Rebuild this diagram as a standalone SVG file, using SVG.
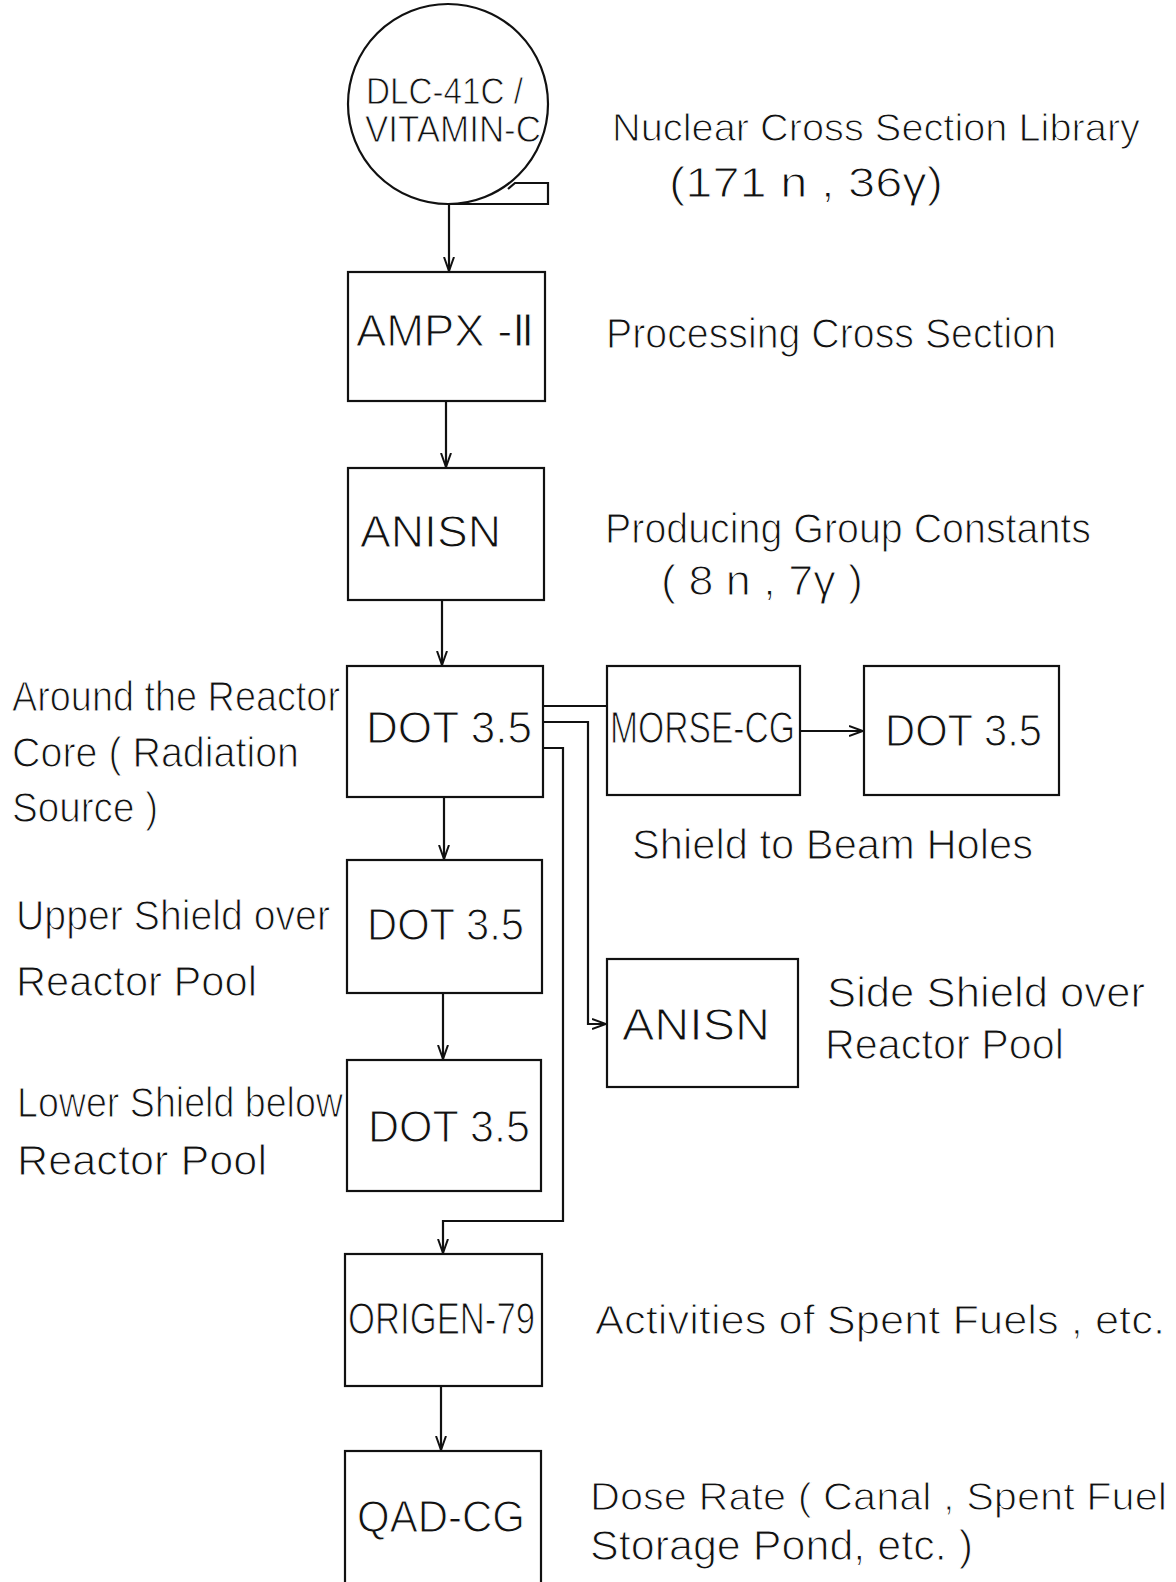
<svg xmlns="http://www.w3.org/2000/svg" width="1176" height="1582" viewBox="0 0 1176 1582">
<style>
  .box { fill: #fff; stroke: #111; stroke-width: 2.2; }
  .conn { fill: none; stroke: #111; stroke-width: 2.2; }
  .t { font-family: "Liberation Sans", Arial, sans-serif; font-size: 42px; fill: #111; stroke: #fff; stroke-width: 1.1px; }
  .n { font-family: "Liberation Sans", Arial, sans-serif; font-size: 44px; fill: #111; stroke: #fff; stroke-width: 1.1px; }
  .c { font-family: "Liberation Sans", Arial, sans-serif; font-size: 37px; fill: #111; stroke: #fff; stroke-width: 0.9px; }
</style>
<defs>
  <marker id="arr" markerUnits="userSpaceOnUse" markerWidth="16" markerHeight="12" refX="14" refY="6" orient="auto">
    <path d="M0,1 L14,6 L0,11" fill="none" stroke="#111" stroke-width="2"/>
  </marker>
</defs>
<rect width="1176" height="1582" fill="#fff"/>

<g id="connectors">
  <line class="conn" x1="449" y1="205" x2="449" y2="271" marker-end="url(#arr)"/>
  <line class="conn" x1="446" y1="401" x2="446" y2="467" marker-end="url(#arr)"/>
  <line class="conn" x1="442" y1="600" x2="442" y2="665" marker-end="url(#arr)"/>
  <line class="conn" x1="543" y1="706" x2="607" y2="706"/>
  <line class="conn" x1="800" y1="731" x2="863" y2="731" marker-end="url(#arr)"/>
  <path class="conn" d="M543,722 H588 V1024 H606" marker-end="url(#arr)"/>
  <path class="conn" d="M543,748 H563 V1221 H443 V1253" marker-end="url(#arr)"/>
  <line class="conn" x1="444" y1="797" x2="444" y2="859" marker-end="url(#arr)"/>
  <line class="conn" x1="443" y1="993" x2="443" y2="1059" marker-end="url(#arr)"/>
  <line class="conn" x1="441" y1="1386" x2="441" y2="1450" marker-end="url(#arr)"/>
</g>

<g id="node-dlc">
  <circle cx="448" cy="104" r="100" fill="#fff" stroke="#111" stroke-width="2.2"/>
  <path class="conn" d="M448,204 H548 V183 H515 L508,189"/>
  <text class="c" x="366" y="104" textLength="157" lengthAdjust="spacingAndGlyphs">DLC-41C /</text>
  <text class="c" x="365" y="142" textLength="176" lengthAdjust="spacingAndGlyphs">VITAMIN-C</text>
</g>

<g id="node-ampx">
  <rect class="box" x="348" y="272" width="197" height="129"/>
  <text class="n" x="356" y="346" textLength="179" lengthAdjust="spacingAndGlyphs">AMPX -Ⅱ</text>
</g>

<g id="node-anisn1">
  <rect class="box" x="348" y="468" width="196" height="132"/>
  <text class="n" x="360" y="547" textLength="141" lengthAdjust="spacingAndGlyphs">ANISN</text>
</g>

<g id="node-dot-main">
  <rect class="box" x="347" y="666" width="196" height="131"/>
  <text class="n" x="366" y="743" textLength="166" lengthAdjust="spacingAndGlyphs">DOT 3.5</text>
</g>

<g id="node-morse">
  <rect class="box" x="607" y="666" width="193" height="129"/>
  <text class="n" x="610" y="743" textLength="185" lengthAdjust="spacingAndGlyphs">MORSE-CG</text>
</g>

<g id="node-dot-right">
  <rect class="box" x="864" y="666" width="195" height="129"/>
  <text class="n" x="885" y="746" textLength="157" lengthAdjust="spacingAndGlyphs">DOT 3.5</text>
</g>

<g id="node-dot-upper">
  <rect class="box" x="347" y="860" width="195" height="133"/>
  <text class="n" x="367" y="940" textLength="157" lengthAdjust="spacingAndGlyphs">DOT 3.5</text>
</g>

<g id="node-anisn-side">
  <rect class="box" x="607" y="959" width="191" height="128"/>
  <text class="n" x="622" y="1040" textLength="148" lengthAdjust="spacingAndGlyphs">ANISN</text>
</g>

<g id="node-dot-lower">
  <rect class="box" x="347" y="1060" width="194" height="131"/>
  <text class="n" x="368" y="1142" textLength="162" lengthAdjust="spacingAndGlyphs">DOT 3.5</text>
</g>

<g id="node-origen">
  <rect class="box" x="345" y="1254" width="197" height="132"/>
  <text class="n" x="348" y="1334" textLength="187" lengthAdjust="spacingAndGlyphs">ORIGEN-79</text>
</g>

<g id="node-qad">
  <rect class="box" x="345" y="1451" width="196" height="160"/>
  <text class="n" x="357" y="1532" textLength="168" lengthAdjust="spacingAndGlyphs">QAD-CG</text>
</g>

<g id="labels">
  <text class="t" x="612" y="141" textLength="528" lengthAdjust="spacingAndGlyphs" style="font-size:39px">Nuclear Cross  Section Library</text>
  <text class="t" x="669" y="197" textLength="274" lengthAdjust="spacingAndGlyphs">(171 n , 36γ)</text>
  <text class="t" x="606" y="348" textLength="450" lengthAdjust="spacingAndGlyphs">Processing  Cross  Section</text>
  <text class="t" x="605" y="543" textLength="486" lengthAdjust="spacingAndGlyphs">Producing  Group  Constants</text>
  <text class="t" x="661" y="595" textLength="202" lengthAdjust="spacingAndGlyphs">( 8 n , 7γ )</text>
  <text class="t" x="12" y="711" textLength="328" lengthAdjust="spacingAndGlyphs">Around  the  Reactor</text>
  <text class="t" x="12" y="767" textLength="287" lengthAdjust="spacingAndGlyphs">Core  ( Radiation</text>
  <text class="t" x="12" y="822" textLength="146" lengthAdjust="spacingAndGlyphs">Source )</text>
  <text class="t" x="632" y="859" textLength="401" lengthAdjust="spacingAndGlyphs">Shield  to  Beam  Holes</text>
  <text class="t" x="16" y="930" textLength="314" lengthAdjust="spacingAndGlyphs">Upper  Shield  over</text>
  <text class="t" x="16" y="996" textLength="241" lengthAdjust="spacingAndGlyphs">Reactor   Pool</text>
  <text class="t" x="827" y="1007" textLength="318" lengthAdjust="spacingAndGlyphs">Side  Shield  over</text>
  <text class="t" x="825" y="1059" textLength="239" lengthAdjust="spacingAndGlyphs">Reactor  Pool</text>
  <text class="t" x="17" y="1117" textLength="326" lengthAdjust="spacingAndGlyphs">Lower  Shield below</text>
  <text class="t" x="17" y="1175" textLength="250" lengthAdjust="spacingAndGlyphs">Reactor   Pool</text>
  <text class="t" x="595" y="1334" textLength="570" lengthAdjust="spacingAndGlyphs" style="font-size:40px">Activities  of  Spent  Fuels , etc.</text>
  <text class="t" x="590" y="1510" textLength="577" lengthAdjust="spacingAndGlyphs" style="font-size:38px">Dose  Rate   ( Canal  ,  Spent Fuel</text>
  <text class="t" x="590" y="1560" textLength="383" lengthAdjust="spacingAndGlyphs">Storage   Pond,  etc. )</text>
</g>
</svg>
